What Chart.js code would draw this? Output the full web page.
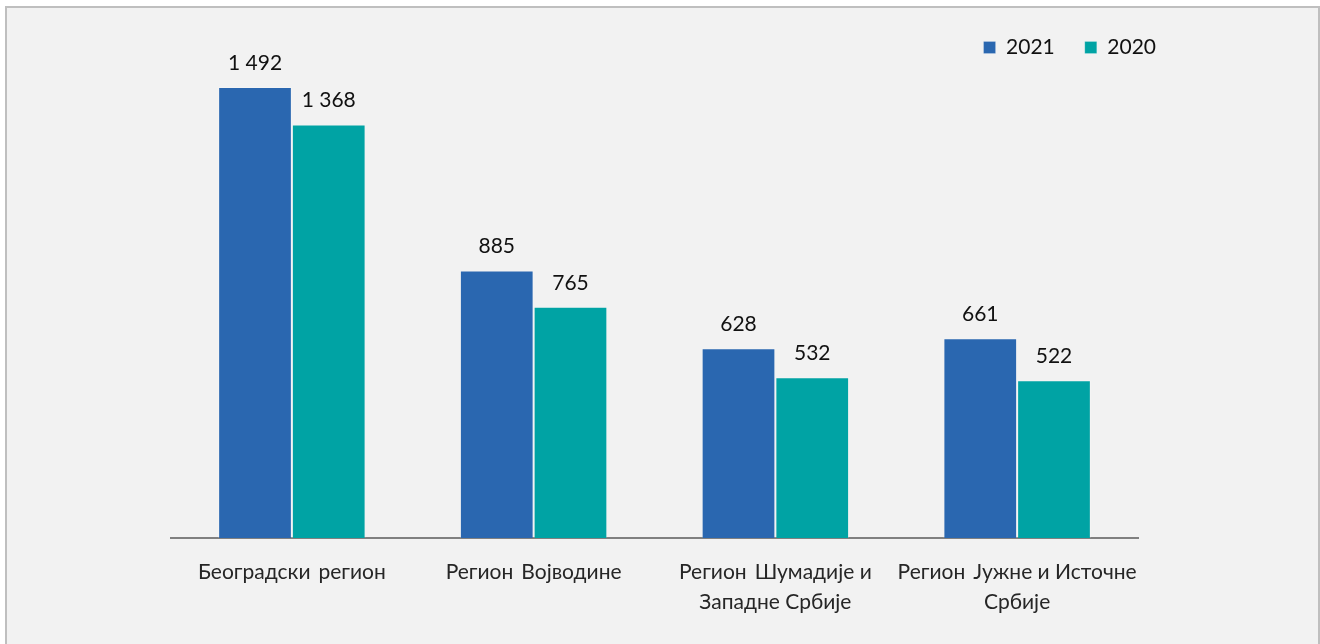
<!DOCTYPE html>
<html lang="sr">
<head>
    <meta charset="UTF-8">
    <title>Региони 2021 / 2020</title>
    <script src="https://cdn.jsdelivr.net/npm/chart.js"></script>
    <style>
        html, body { margin: 0; padding: 0; background: #ffffff; overflow: hidden; }
        #frame {
            position: absolute; left: 5px; top: 6px;
            width: 1315px; height: 700px; box-sizing: border-box;
            border: 2px solid #bfbfbf; background: #f2f2f2;
        }
        #regionChart { position: absolute; left: 0; top: 0; }
    </style>
</head>
<body>
    <div id="frame"></div>
    <canvas id="regionChart" width="1320" height="644"></canvas>

    <script>
        // regions (x axis labels, wrapped like the original)
        const regions = [
            'Београдски\u2009 регион',
            'Регион\u2009 Војводине',
            ['Регион\u2009 Шумадије и', 'Западне Србије'],
            ['Регион\u2009 Јужне и Источне', 'Србије']
        ];
        const values2021 = [1492, 885, 628, 661];
        const values2020 = [1368, 765, 532, 522];

        const blue = '#2a67b0';
        const teal = '#00a3a4';
        const fontFamily = 'Lato, "Noto Sans", sans-serif';

        function fmt(v) {
            return String(v).replace(/\B(?=(\d{3})+(?!\d))/g, ' ');
        }

        // value labels over every bar
        const barLabels = {
            id: 'barLabels',
            afterDatasetsDraw(chart) {
                const ctx = chart.ctx;
                ctx.save();
                ctx.font = '21px ' + fontFamily;
                ctx.fillStyle = '#111111';
                ctx.textAlign = 'center';
                ctx.textBaseline = 'middle';
                chart.data.datasets.forEach((ds, i) => {
                    chart.getDatasetMeta(i).data.forEach((bar, j) => {
                        ctx.fillText(fmt(ds.data[j]), bar.x, bar.y - 24);
                    });
                });
                ctx.restore();
            }
        };

        const ctx = document.getElementById('regionChart').getContext('2d');
        const regionChart = new Chart(ctx, {
            type: 'bar',
            data: {
                labels: regions,
                datasets: [
                    {
                        label: '2021',
                        data: values2021,
                        backgroundColor: blue,
                        borderColor: 'rgba(255,255,255,0.2)',
                        borderWidth: 1
                    },
                    {
                        label: '2020',
                        data: values2020,
                        backgroundColor: teal,
                        borderColor: 'rgba(255,255,255,0.2)',
                        borderWidth: 1
                    }
                ]
            },
            options: {
                responsive: false,
                animation: false,
                categoryPercentage: 0.61,
                barPercentage: 1,
                layout: { padding: { left: 171, right: 134, top: 7, bottom: 0 } },
                plugins: {
                    legend: {
                        position: 'top',
                        align: 'end',
                        labels: {
                            boxWidth: 12,
                            boxHeight: 12,
                            padding: 30,
                            color: '#111111',
                            font: { family: fontFamily, size: 21 }
                        }
                    },
                    tooltip: { enabled: false }
                },
                scales: {
                    x: {
                        grid: { display: false, drawTicks: false },
                        border: { display: true, color: '#808080', width: 2 },
                        ticks: {
                            color: '#262626',
                            padding: 20,
                            maxRotation: 0,
                            autoSkip: false,
                            font: { family: fontFamily, size: 21, lineHeight: 1.4 }
                        },
                        afterFit(scale) { scale.height = 106; }
                    },
                    y: {
                        position: 'right',
                        min: 0,
                        max: 1555,
                        grid: { display: false, drawTicks: false },
                        border: { display: false },
                        ticks: { display: false },
                        afterFit(scale) { scale.width = 48; }
                    }
                }
            },
            plugins: [barLabels]
        });
    </script>
</body>
</html>
